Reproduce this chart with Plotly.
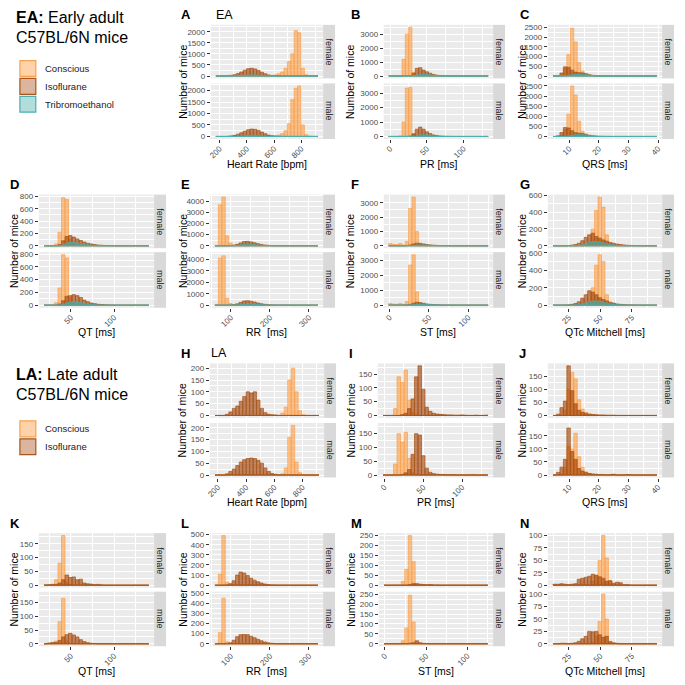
import plotly.graph_objects as go

SIZE = 685
FONT = "Liberation Sans, Arial, Helvetica, sans-serif"

# ---------------- bins: (left edge, bin width), 30 bins each ----------------
HR_EA_BINS = (172, 25)
PR_BINS = (-1.75, 4.5)
QRS_BINS = (4.5, 1.17)
QT_BINS = (18.9, 4.05)
RR_BINS = (59, 8.8)
ST_BINS = (-1, 4.2)
QTC_BINS = (12.5, 2.75)
HR_LA_BINS = (180, 24.5)

GROUPS_EA = ["Conscious", "Isoflurane", "Tribromoethanol"]
GROUPS_LA = ["Conscious", "Isoflurane"]
FACETS = ["female", "male"]

# ---------------- counts per bin (30 values) ----------------
# A  Heart rate (EA)
A_F_CON = [0,0,0,0,0,0,0,0,0,0, 0,0,0,0,0,0,20,50,100,180, 350,650,1000,2050,1950,350,60,20,5,2]
A_F_ISO = [0,0,0,10,30,60,110,180,260,330, 350,320,250,170,100,50,25,10,5,3, 2,0,0,0,0,0,0,0,0,0]
A_F_TRI = [0,0,0,0,0,5,10,20,35,45, 50,45,35,25,15,10,5,3,0,0, 0,0,0,0,0,0,0,0,0,0]
A_M_CON = [0,0,0,0,0,0,0,0,0,0, 0,0,0,0,0,0,15,30,60,120, 250,550,1600,2100,2200,500,80,20,5,2]
A_M_ISO = [0,0,0,8,25,50,100,160,230,290, 320,310,260,190,120,60,30,12,5,3, 2,0,0,0,0,0,0,0,0,0]
A_M_TRI = [0,0,0,0,0,4,10,20,32,42, 48,45,38,28,18,10,5,3,0,0, 0,0,0,0,0,0,0,0,0,0]
# B  PR (EA)
B_F_CON = [0,0,0,30,1200,3000,3500,250,40,10, 3,0,0,0,0,0,0,0,0,0, 0,0,0,0,0,0,0,0,0,0]
B_F_ISO = [0,0,0,0,0,5,30,200,550,600, 430,300,200,110,60,30,15,8,4,2, 0,0,0,0,0,0,0,0,0,0]
B_F_TRI = [0,0,0,0,0,0,0,20,60,110, 130,110,80,50,25,12,5,0,0,0, 0,0,0,0,0,0,0,0,0,0]
B_M_CON = [0,0,0,40,1000,3350,3400,200,30,8, 2,0,0,0,0,0,0,0,0,0, 0,0,0,0,0,0,0,0,0,0]
B_M_ISO = [0,0,0,0,0,5,25,180,500,650, 500,320,200,110,60,30,15,8,4,2, 0,0,0,0,0,0,0,0,0,0]
B_M_TRI = [0,0,0,0,0,0,0,15,50,100, 120,110,80,50,25,10,5,0,0,0, 0,0,0,0,0,0,0,0,0,0]
# C  QRS (EA)
C_F_CON = [0,0,50,400,1100,2450,1750,700,250,80, 30,10,5,0,0,0,0,0,0,0, 0,0,0,0,0,0,0,0,0,0]
C_F_ISO = [0,20,150,470,450,300,200,170,160,120, 70,35,15,8,4,2,0,0,0,0, 0,0,0,0,0,0,0,0,0,0]
C_F_TRI = [0,0,0,10,30,60,90,100,90,70, 45,25,12,5,0,0,0,0,0,0, 0,0,0,0,0,0,0,0,0,0]
C_M_CON = [0,0,40,350,1100,2500,2050,750,250,80, 30,10,5,0,0,0,0,0,0,0, 0,0,0,0,0,0,0,0,0,0]
C_M_ISO = [0,30,200,450,420,280,190,160,150,110, 60,30,15,8,4,2,0,0,0,0, 0,0,0,0,0,0,0,0,0,0]
C_M_TRI = [0,0,0,10,30,55,85,100,95,75, 50,28,14,6,2,0,0,0,0,0, 0,0,0,0,0,0,0,0,0,0]
# D  QT (EA)
D_F_CON = [0,0,0,30,220,780,750,100,20,5, 0,0,0,0,0,0,0,0,0,0, 0,0,0,0,0,0,0,0,0,0]
D_F_ISO = [0,0,0,0,20,80,150,165,140,110, 85,60,40,30,20,12,8,5,3,2, 0,0,0,0,0,0,0,0,0,0]
D_F_TRI = [0,0,0,0,0,15,40,55,55,45, 35,25,15,10,5,0,0,0,0,0, 0,0,0,0,0,0,0,0,0,0]
D_M_CON = [0,0,0,40,270,790,740,120,20,5, 0,0,0,0,0,0,0,0,0,0, 0,0,0,0,0,0,0,0,0,0]
D_M_ISO = [0,0,0,0,20,70,140,150,165,150, 120,80,55,35,25,15,10,6,3,2, 0,0,0,0,0,0,0,0,0,0]
D_M_TRI = [0,0,0,0,0,15,35,50,55,50, 40,28,18,10,5,0,0,0,0,0, 0,0,0,0,0,0,0,0,0,0]
# E  RR (EA)
E_F_CON = [30,3700,4400,900,250,60,20,0,0,0, 0,0,0,0,0,0,0,0,0,0, 0,0,0,0,0,0,0,0,0,0]
E_F_ISO = [0,0,0,0,10,50,130,260,380,400, 350,270,190,120,70,40,20,10,5,3, 0,0,0,0,0,0,0,0,0,0]
E_F_TRI = [0,0,0,0,0,0,20,60,110,140, 130,100,70,40,20,10,5,0,0,0, 0,0,0,0,0,0,0,0,0,0]
E_M_CON = [30,4100,4300,600,150,40,15,0,0,0, 0,0,0,0,0,0,0,0,0,0, 0,0,0,0,0,0,0,0,0,0]
E_M_ISO = [0,0,0,0,10,40,120,250,370,390, 350,280,200,130,80,45,25,12,6,3, 0,0,0,0,0,0,0,0,0,0]
E_M_TRI = [0,0,0,0,0,0,15,55,100,135, 130,105,75,45,22,10,5,0,0,0, 0,0,0,0,0,0,0,0,0,0]
# F  ST (EA)
F_F_CON = [150,100,80,150,60,300,2600,3400,1000,100, 20,5,0,0,0,0,0,0,0,0, 0,0,0,0,0,0,0,0,0,0]
F_F_ISO = [0,0,0,0,0,20,60,130,180,170, 130,90,60,40,25,15,10,6,4,3, 2,2,1,0,0,0,0,0,0,0]
F_F_TRI = [0,0,0,0,0,0,10,30,50,60, 55,45,35,25,15,10,5,3,0,0, 0,0,0,0,0,0,0,0,0,0]
F_M_CON = [120,80,70,120,60,250,2700,3400,900,80, 15,5,0,0,0,0,0,0,0,0, 0,0,0,0,0,0,0,0,0,0]
F_M_ISO = [0,0,0,0,0,20,60,140,200,180, 130,90,60,40,25,15,10,6,4,3, 2,1,1,0,0,0,0,0,0,0]
F_M_TRI = [0,0,0,0,0,0,10,30,50,60, 55,45,35,25,15,10,5,3,0,0, 0,0,0,0,0,0,0,0,0,0]
# G  QTc Mitchell (EA)
G_F_CON = [0,0,0,0,0,0,0,0,0,5, 40,200,420,580,460,130,30,5,0,0, 0,0,0,0,0,0,0,0,0,0]
G_F_ISO = [0,0,0,0,3,8,15,30,60,100, 130,150,110,90,70,55,40,30,20,15, 10,6,4,3,2,0,0,0,0,0]
G_F_TRI = [0,0,0,0,0,0,0,5,12,25, 38,48,50,45,35,25,15,10,5,3, 0,0,0,0,0,0,0,0,0,0]
G_M_CON = [0,0,0,0,0,0,0,0,0,5, 40,200,460,580,500,120,25,5,0,0, 0,0,0,0,0,0,0,0,0,0]
G_M_ISO = [0,0,0,0,3,10,20,40,80,120, 165,150,120,85,65,50,35,25,15,10, 6,4,3,2,1,0,0,0,0,0]
G_M_TRI = [0,0,0,0,0,0,0,5,12,25, 40,48,50,45,35,25,15,10,5,3, 0,0,0,0,0,0,0,0,0,0]
# H  Heart rate (LA)
H_F_CON = [0,0,0,0,0,0,0,0,0,0, 0,0,0,0,0,0,0,0,0,10, 35,150,200,100,20,3,0,0,0,0]
H_F_ISO = [0,0,0,5,15,30,40,60,80,100, 95,100,65,30,12,5,3,2,0,0, 0,0,0,0,0,0,0,0,0,0]
H_M_CON = [0,0,0,0,0,0,0,0,0,0, 0,0,0,0,0,0,0,0,0,5, 30,160,210,55,10,2,0,0,0,0]
H_M_ISO = [0,0,0,5,15,25,40,55,65,70, 72,70,62,50,30,15,6,3,0,0, 0,0,0,0,0,0,0,0,0,0]
# I  PR (LA)
I_F_CON = [0,0,0,25,140,120,165,55,10,3, 0,0,0,0,0,0,0,0,0,0, 0,0,0,0,0,0,0,0,0,0]
I_F_ISO = [0,0,0,0,0,3,8,25,60,140, 180,95,30,15,8,5,4,3,2,2, 1,1,2,1,0,0,1,0,0,1]
I_M_CON = [0,0,0,40,150,120,155,60,8,2, 0,0,0,0,0,0,0,0,0,0, 0,0,0,0,0,0,0,0,0,0]
I_M_ISO = [0,0,0,0,0,2,8,20,75,150, 145,70,25,10,5,3,2,2,1,1, 1,0,0,0,0,1,0,0,0,0]
# J  QRS (LA)
J_F_CON = [0,0,0,20,100,165,140,60,25,12, 6,3,0,0,0,0,0,0,0,0, 0,0,0,0,0,0,0,0,0,0]
J_F_ISO = [0,5,30,55,190,95,45,20,12,8, 5,4,3,2,2,1,1,1,0,0, 0,0,0,0,0,0,0,0,0,0]
J_M_CON = [0,0,0,30,110,100,160,70,30,12, 6,3,0,0,0,0,0,0,0,0, 0,0,0,0,0,0,0,0,0,0]
J_M_ISO = [0,10,30,60,180,90,60,25,15,10, 6,4,3,2,2,0,1,3,0,0, 0,2,1,0,0,0,0,0,0,0]
# K  QT (LA)
K_F_CON = [0,0,0,20,80,180,10,3,0,0, 0,0,0,0,0,0,0,0,0,0, 0,0,0,0,0,0,0,0,0,0]
K_F_ISO = [1,2,3,3,8,20,37,28,30,20, 22,8,5,4,2,3,1,0,0,0, 0,0,0,0,0,0,0,0,0,0]
K_M_CON = [0,0,0,10,80,165,10,2,0,0, 0,0,0,0,0,0,0,0,0,0, 0,0,0,0,0,0,0,0,0,0]
K_M_ISO = [0,3,5,5,12,25,33,38,32,25, 15,8,4,2,1,0,0,0,0,0, 0,0,0,0,0,0,0,0,0,0]
# L  RR (LA)
L_F_CON = [0,110,490,30,3,0,0,0,0,0, 0,0,0,0,0,0,0,0,0,0, 0,0,0,0,0,0,0,0,0,0]
L_F_ISO = [0,0,0,3,15,45,100,130,120,95, 70,50,35,22,12,6,3,2,0,0, 0,0,0,0,0,0,0,0,0,0]
L_M_CON = [0,110,450,20,2,0,0,0,0,0, 0,0,0,0,0,0,0,0,0,0, 0,0,0,0,0,0,0,0,0,0]
L_M_ISO = [0,0,0,3,10,35,70,90,92,90, 75,60,45,30,18,10,5,2,0,0, 0,0,0,0,0,0,0,0,0,0]
# M  ST (LA)
M_F_CON = [0,0,0,0,0,20,80,250,120,5, 0,0,0,0,0,0,0,0,0,0, 0,0,0,0,0,0,0,0,0,0]
M_F_ISO = [0,0,0,0,0,0,0,3,8,8, 5,3,2,3,1,1,0,0,0,0, 0,0,0,0,0,0,0,0,0,0]
M_M_CON = [0,0,0,0,0,15,80,245,110,5, 0,0,0,0,0,0,0,0,0,0, 0,0,0,0,0,0,0,0,0,0]
M_M_ISO = [0,0,0,0,0,0,0,3,5,15, 5,2,1,0,0,0,0,0,0,0, 0,0,0,0,0,0,0,0,0,0]
# N  QTc Mitchell (LA)
N_F_CON = [0,0,0,0,0,0,0,0,0,0, 0,8,20,50,100,55,10,0,0,0, 0,0,0,0,0,0,0,0,0,0]
N_F_ISO = [2,2,3,2,1,2,3,12,14,16, 18,22,20,17,14,8,9,4,6,5, 1,1,0,0,0,0,0,0,0,0]
N_M_CON = [0,0,0,0,0,0,0,0,0,0, 0,3,15,45,100,50,5,0,0,0, 0,0,0,0,0,0,0,0,0,0]
N_M_ISO = [0,0,1,1,0,1,2,5,10,15, 25,24,25,18,13,15,4,2,1,0, 0,0,0,0,0,0,0,0,0,0]

# ---------------- styles ----------------
FILLS = ["rgba(255,150,50,0.55)", "rgba(165,62,0,0.62)", "rgba(60,170,165,0.55)"]
LINES = ["#F9A050", "#A5561A", "#4FAEAE"]
LEG_FILLS = ["rgba(255,150,50,0.42)", "rgba(165,70,10,0.4)", "rgba(60,170,165,0.4)"]
PANEL_BG = "#EBEBEB"
STRIP_BG = "#D9D9D9"
TICK_COL = "#4D4D4D"

ROWS = {1: (22, 76, 81, 137), 2: (193, 247, 251, 307), 3: (363, 418, 423, 478), 4: (534, 589, 593, 648)}
XTITLE_Y = {1: 162, 2: 331, 3: 503, 4: 673}

panels = [
    dict(L="A", row=1, box=(209, 322), bins=HR_EA_BINS, f=[A_F_CON, A_F_ISO, A_F_TRI], m=[A_M_CON, A_M_ISO, A_M_TRI],
         xt="Heart Rate [bpm]", xd=200, yd=500, lx=177, yx=181, tag="EA", tagx=212),
    dict(L="B", row=1, box=(383, 493), bins=PR_BINS, f=[B_F_CON, B_F_ISO, B_F_TRI], m=[B_M_CON, B_M_ISO, B_M_TRI],
         xt="PR [ms]", xd=50, yd=1000, lx=348, yx=349),
    dict(L="C", row=1, box=(548, 663), bins=QRS_BINS, f=[C_F_CON, C_F_ISO, C_F_TRI], m=[C_M_CON, C_M_ISO, C_M_TRI],
         xt="QRS [ms]", xd=10, yd=500, lx=518, yx=522),
    dict(L="D", row=2, box=(36, 152), bins=QT_BINS, f=[D_F_CON, D_F_ISO, D_F_TRI], m=[D_M_CON, D_M_ISO, D_M_TRI],
         xt="QT [ms]", xd=50, yd=200, lx=5, yx=11),
    dict(L="E", row=2, box=(208, 322), bins=RR_BINS, f=[E_F_CON, E_F_ISO, E_F_TRI], m=[E_M_CON, E_M_ISO, E_M_TRI],
         xt="RR\u00a0 [ms]", xd=100, yd=1000, lx=177, yx=181),
    dict(L="F", row=2, box=(383, 493), bins=ST_BINS, f=[F_F_CON, F_F_ISO, F_F_TRI], m=[F_M_CON, F_M_ISO, F_M_TRI],
         xt="ST [ms]", xd=50, yd=1000, lx=348, yx=349),
    dict(L="G", row=2, box=(548, 663), bins=QTC_BINS, f=[G_F_CON, G_F_ISO, G_F_TRI], m=[G_M_CON, G_M_ISO, G_M_TRI],
         xt="QTc Mitchell [ms]", xd=25, yd=200, lx=518, yx=522),
    dict(L="H", row=3, box=(208, 323), bins=HR_LA_BINS, f=[H_F_CON, H_F_ISO], m=[H_M_CON, H_M_ISO],
         xt="Heart Rate [bpm]", xd=200, yd=50, lx=177, yx=180, tag="LA", tagx=207),
    dict(L="I", row=3, box=(377, 493), bins=PR_BINS, f=[I_F_CON, I_F_ISO], m=[I_M_CON, I_M_ISO],
         xt="PR [ms]", xd=50, yd=50, lx=346, yx=350),
    dict(L="J", row=3, box=(548, 663), bins=QRS_BINS, f=[J_F_CON, J_F_ISO], m=[J_M_CON, J_M_ISO],
         xt="QRS [ms]", xd=10, yd=50, lx=517, yx=522),
    dict(L="K", row=4, box=(36, 152), bins=QT_BINS, f=[K_F_CON, K_F_ISO], m=[K_M_CON, K_M_ISO],
         xt="QT [ms]", xd=50, yd=50, lx=5, yx=11),
    dict(L="L", row=4, box=(208, 322), bins=RR_BINS, f=[L_F_CON, L_F_ISO], m=[L_M_CON, L_M_ISO],
         xt="RR\u00a0 [ms]", xd=100, yd=100, lx=177, yx=181),
    dict(L="M", row=4, box=(378, 493), bins=ST_BINS, f=[M_F_CON, M_F_ISO], m=[M_M_CON, M_M_ISO],
         xt="ST [ms]", xd=50, yd=50, lx=348, yx=350),
    dict(L="N", row=4, box=(548, 663), bins=QTC_BINS, f=[N_F_CON, N_F_ISO], m=[N_M_CON, N_M_ISO],
         xt="QTc Mitchell [ms]", xd=25, yd=25, lx=518, yx=522),
]


def px_x(x):
    return x / SIZE


def px_y(y):
    return 1 - y / SIZE


fig = go.Figure()
layout = {}
shapes = []
annotations = []


def ann(text, x, y, size, color="#000000", xanchor="left", yanchor="middle", angle=0, bold=False):
    annotations.append(dict(
        text=f"<b>{text}</b>" if bold else text, x=px_x(x), y=px_y(y), xref="paper", yref="paper",
        showarrow=False, xanchor=xanchor, yanchor=yanchor, textangle=angle,
        font=dict(family=FONT, size=size, color=color)))


n = 0
for p in panels:
    lo, w = p["bins"]
    hi = lo + 30 * w
    span = hi - lo
    xr = [lo - 0.05 * span, hi + 0.05 * span]
    ymax = max(max(a) for a in p["f"] + p["m"])
    yr = [-0.05 * ymax, 1.05 * ymax]
    centers = [lo + w * (i + 0.5) for i in range(30)]
    L, R = p["box"]
    rt = ROWS[p["row"]]
    for fi, groups in enumerate([p["f"], p["m"]]):
        n += 1
        top, bot = rt[2 * fi], rt[2 * fi + 1]
        xkey = "xaxis" if n == 1 else f"xaxis{n}"
        ykey = "yaxis" if n == 1 else f"yaxis{n}"
        xref = "x" if n == 1 else f"x{n}"
        yref = "y" if n == 1 else f"y{n}"
        bottom = fi == 1
        layout[xkey] = dict(
            domain=[px_x(L), px_x(R)], anchor=yref, range=xr, tick0=0, dtick=p["xd"],
            showgrid=True, gridcolor="white", gridwidth=1.1, zeroline=False, showline=False,
            showticklabels=bottom, ticks="outside" if bottom else "", ticklen=3, tickwidth=1,
            tickcolor="#333333", tickangle=-45 if bottom else 0, ticklabelstandoff=-2,
            tickfont=dict(family=FONT, size=8, color=TICK_COL),
            minor=dict(dtick=p["xd"] / 2, tick0=0, showgrid=True, gridcolor="white", gridwidth=0.5),
        )
        layout[ykey] = dict(
            domain=[px_y(bot), px_y(top)], anchor=xref, range=yr, tick0=0, dtick=p["yd"],
            showgrid=True, gridcolor="white", gridwidth=1.1, zeroline=False, showline=False,
            ticks="outside", ticklen=3, tickwidth=1, tickcolor="#333333",
            tickfont=dict(family=FONT, size=8, color=TICK_COL),
            minor=dict(dtick=p["yd"] / 2, tick0=0, showgrid=True, gridcolor="white", gridwidth=0.5),
        )
        for gi, arr in enumerate(groups):
            fig.add_trace(go.Bar(
                x=centers, y=arr, width=w, xaxis=xref, yaxis=yref, showlegend=False,
                marker=dict(color=FILLS[gi], line=dict(color=LINES[gi], width=0.7)),
                hoverinfo="skip"))
        fig.add_trace(go.Scatter(
            x=[lo, hi], y=[0, 0], mode="lines", xaxis=xref, yaxis=yref, showlegend=False,
            line=dict(color=LINES[len(groups) - 1], width=1), hoverinfo="skip"))
        # facet strip
        shapes.append(dict(type="rect", xref="paper", yref="paper", x0=px_x(R), x1=px_x(R + 12),
                           y0=px_y(bot), y1=px_y(top), fillcolor=STRIP_BG, line=dict(width=0), layer="below"))
        ann(FACETS[fi], R + 6, (top + bot) / 2, 9, color="#1A1A1A", xanchor="center", angle=90)
    # panel letter, title, axis titles
    ann(p["L"], p["lx"], rt[0] - 10, 13, bold=True)
    if "tag" in p:
        ann(p["tag"], p["tagx"], rt[0] - 10, 12.5)
    ann("Number of mice", p["yx"], (rt[0] + rt[3]) / 2, 10.5, xanchor="center", angle=-90)
    ann(p["xt"], (L + R) / 2, XTITLE_Y[p["row"]], 10.5, xanchor="center")

# ---------------- headings and legends ----------------
ann("<b>EA:</b> Early adult", 11, 15, 16)
ann("C57BL/6N mice", 11, 35, 16)
ann("<b>LA:</b> Late adult", 11, 374, 16)
ann("C57BL/6N mice", 11, 394, 16)

LEG_EA_Y = [58, 76, 94]
LEG_LA_Y = [421, 439]
for ys, names in [(LEG_EA_Y, GROUPS_EA), (LEG_LA_Y, GROUPS_LA)]:
    for gi, (y0, name) in enumerate(zip(ys, names)):
        shapes.append(dict(type="rect", xref="paper", yref="paper", x0=px_x(17), x1=px_x(33),
                           y0=px_y(y0 + 16), y1=px_y(y0), fillcolor=LEG_FILLS[gi],
                           line=dict(color=LINES[gi], width=1.2)))
        ann(name, 40, y0 + 8, 9.5, color="#1A1A1A")

fig.update_layout(
    width=SIZE, height=SIZE, autosize=False,
    margin=dict(l=0, r=0, t=0, b=0),
    paper_bgcolor="white", plot_bgcolor=PANEL_BG,
    barmode="overlay", showlegend=False,
    font=dict(family=FONT, color="#000000"),
    shapes=shapes, annotations=annotations,
    **layout,
)

fig.write_html("out.html", config={"displayModeBar": False})

# remove the browser's default page margin so the figure fills the window exactly
with open("out.html", encoding="utf-8") as fh:
    page = fh.read()
page = page.replace("<head>", "<head><style>html,body{margin:0;padding:0;overflow:hidden;}</style>", 1)
with open("out.html", "w", encoding="utf-8") as fh:
    fh.write(page)
